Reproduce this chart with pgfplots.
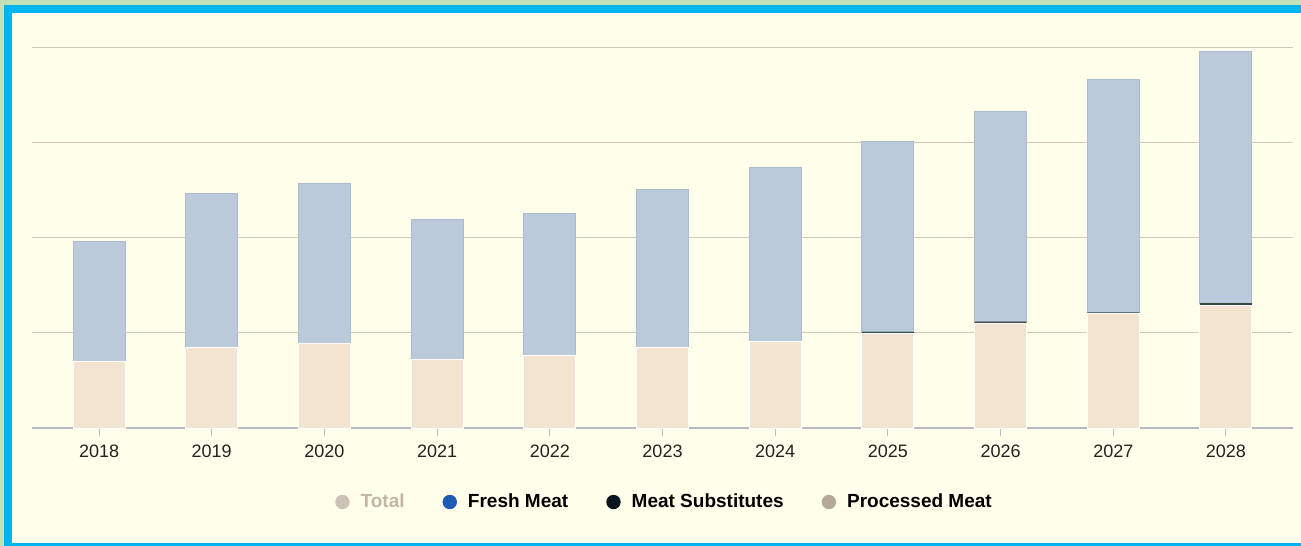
\documentclass[border=0pt]{standalone}
\usepackage{pgfplots}
\pgfplotsset{compat=1.18}
\usepackage{fontspec}
\setmainfont{Liberation Sans}
\definecolor{bggreen}{HTML}{C5DFB4}
\definecolor{frame}{HTML}{00B4EF}
\definecolor{cream}{HTML}{FFFFEB}
\definecolor{freshc}{HTML}{BACADB}
\definecolor{freshedge}{HTML}{A9BBCE}
\definecolor{procc}{HTML}{F3E4D1}
\definecolor{subsc}{HTML}{3A4740}
\definecolor{gridc}{HTML}{D3C9B3}
\definecolor{axisc}{HTML}{B9B9C2}
\definecolor{totalm}{HTML}{CBC1B4}
\definecolor{totalt}{HTML}{C3B6A4}
\definecolor{freshm}{HTML}{1F5BB5}
\definecolor{subsm}{HTML}{0A141E}
\definecolor{procm}{HTML}{B4A999}
\definecolor{labelc}{HTML}{222222}
\pgfplotsset{circ/.style={legend image code/.code={\fill[##1, draw=none] (0pt,0pt) circle (3.6pt);}}}
\begin{document}
\begin{tikzpicture}
\useasboundingbox (0pt,0pt) rectangle (650.5pt,-273pt);
\fill[bggreen] (0pt,0pt) rectangle (650.5pt,-273pt);
\fill[frame] (2pt,-2.5pt) rectangle (650.5pt,-273pt);
\fill[cream] (6pt,-6.5pt) rectangle (650.5pt,-271.5pt);
\begin{axis}[
  at={(16pt,-214pt)}, anchor=south west,
  scale only axis, width=630.5pt, height=190.5pt,
  xmin=-0.595, xmax=10.595, ymin=0, ymax=4,
  ybar stacked, bar width=26pt,
  axis x line*=bottom, axis y line*=left,
  x axis line style={draw=axisc, line width=0.8pt},
  y axis line style={draw=none},
  xtick={0,...,10},
  xticklabels={2018,2019,2020,2021,2022,2023,2024,2025,2026,2027,2028},
  x tick label style={font=\fontsize{9}{10}\selectfont, text=labelc, yshift=-1pt},
  xtick style={draw=axisc, line width=0.5pt},
  ytick style={draw=none},
  tick align=outside, major tick length=4pt,
  ytick={1,2,3,4}, yticklabels={},
  ymajorgrids, grid style={draw=gridc, line width=0.5pt},
  /pgf/number format/assume math mode=true,
  legend style={at={(0.5,0)}, anchor=center, yshift=-37pt, xshift=1.5pt, draw=none, fill=none,
    legend columns=4, font=\fontsize{9.5}{11}\selectfont\bfseries,
    /tikz/every odd column/.append style={column sep=3.5pt},
    /tikz/every even column/.append style={column sep=17pt}},
  legend cell align=left,
]
\addlegendimage{circ, fill=totalm}
\addlegendentry{\textcolor{totalt}{Total}}
\addlegendimage{circ, fill=freshm}
\addlegendentry{Fresh Meat}
\addlegendimage{circ, fill=subsm}
\addlegendentry{Meat Substitutes}
\addlegendimage{circ, fill=procm}
\addlegendentry{Processed Meat}
% Processed Meat
\addplot[fill=procc, draw=white, line width=0.5pt] coordinates {
(0,0.703) (1,0.850) (2,0.882) (3,0.724) (4,0.766) (5,0.840)
(6,0.913) (7,0.997) (8,1.102) (9,1.197) (10,1.291)};
% Meat Substitutes
\addplot[fill=subsc, draw=none] coordinates {
(0,0) (1,0) (2,0) (3,0) (4,0) (5,0)
(6,0) (7,0.012) (8,0.015) (9,0.018) (10,0.020)};
% Fresh Meat
\addplot[fill=freshc, draw=freshedge, line width=0.5pt] coordinates {
(0,1.260) (1,1.617) (2,1.690) (3,1.470) (4,1.491) (5,1.669)
(6,1.827) (7,1.994) (8,2.201) (9,2.439) (10,2.647)};
\end{axis}
\end{tikzpicture}
\end{document}
